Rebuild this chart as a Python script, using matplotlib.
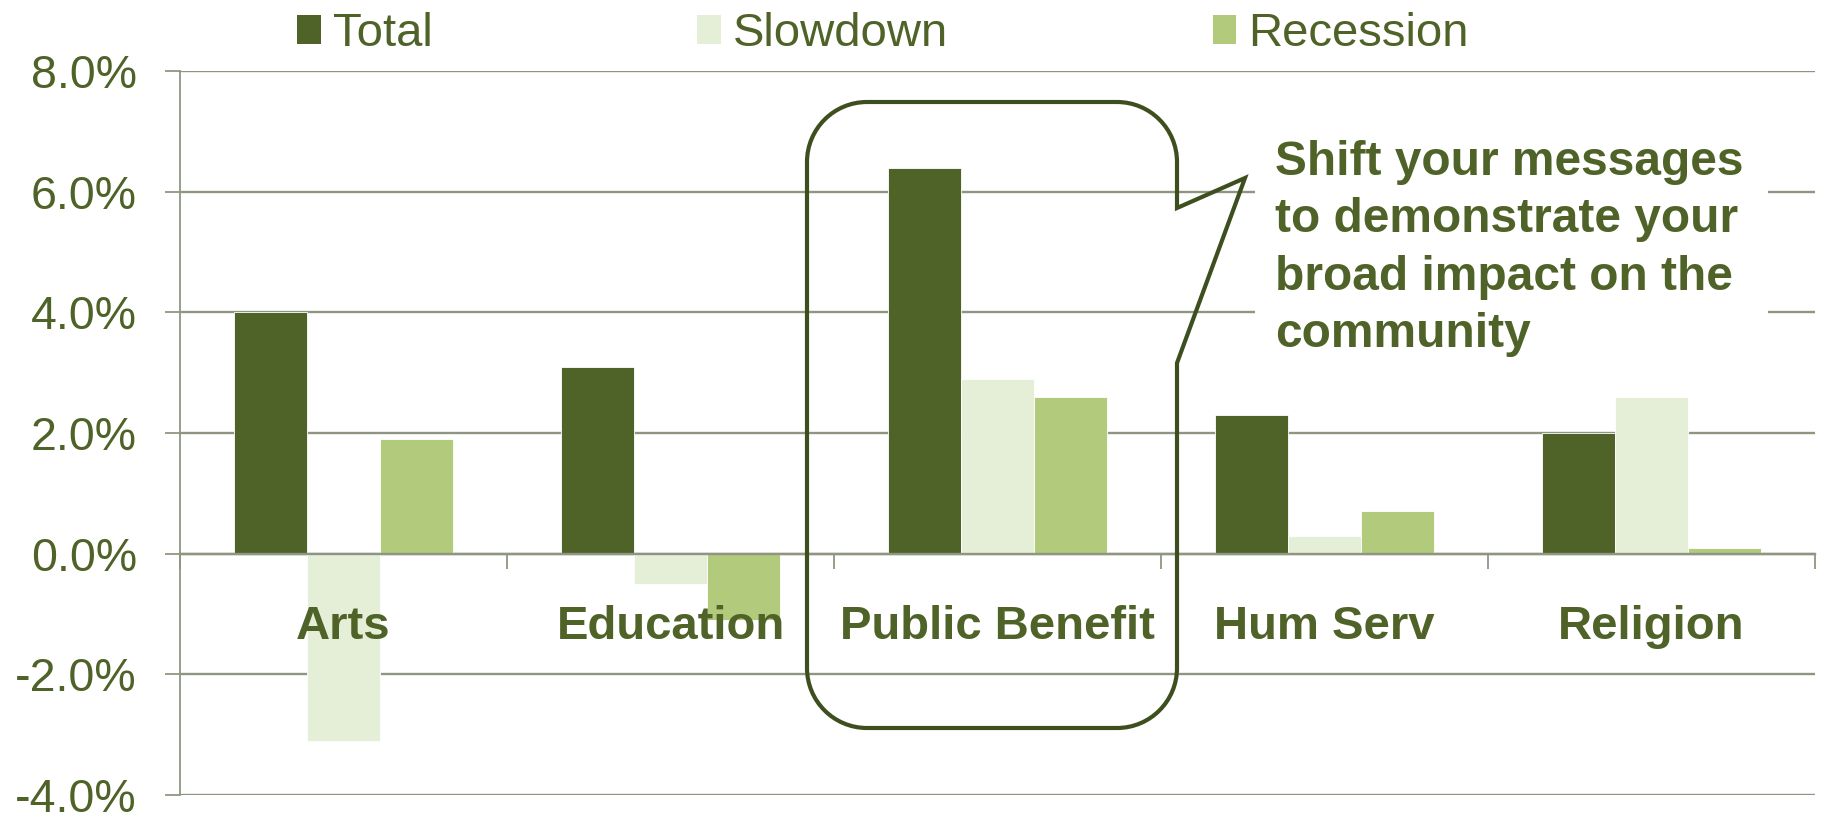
import matplotlib
matplotlib.use("Agg")
import matplotlib.pyplot as plt
from matplotlib.patches import Patch, PathPatch, Rectangle
from matplotlib.path import Path
from matplotlib.transforms import Affine2D
import numpy as np

# ---- data -------------------------------------------------------------
categories = ["Arts", "Education", "Public Benefit", "Hum Serv", "Religion"]
series_names = ["Total", "Slowdown", "Recession"]
total = [4.0, 3.1, 6.4, 2.3, 2.0]
slowdown = [-3.1, -0.5, 2.9, 0.3, 2.6]
recession = [1.9, -1.1, 2.6, 0.7, 0.1]
y_ticks = [-4, -2, 0, 2, 4, 6, 8]
callout_lines = ["Shift your messages", "to demonstrate your",
                 "broad impact on the", "community"]

# ---- style ------------------------------------------------------------
OLIVE = "#4F6228"
COLORS = ["#4F6228", "#E5EED7", "#B2CA7C"]
GRID = "#8E9682"
CALLOUT = "#3E4F1F"
W, H = 1822, 813
DPI = 100

plt.rcParams["font.family"] = ["Liberation Sans", "DejaVu Sans"]

fig = plt.figure(figsize=(W / DPI, H / DPI), dpi=DPI)
ax = fig.add_axes([180 / W, 1 - 795 / H, 1635 / W, 724 / H])

x = np.arange(len(categories))
bw = 0.2232
for i, (vals, col) in enumerate(zip([total, slowdown, recession], COLORS)):
    ax.bar(x + (i - 1) * bw, vals, width=bw, color=col, edgecolor="white",
           linewidth=0.6, zorder=2, label=series_names[i])

ax.set_xlim(-0.5, len(categories) - 0.5)
ax.set_ylim(-4, 8)
ax.set_yticks(y_ticks)
ax.set_yticklabels([f"{v:.1f}%" for v in y_ticks])
ax.set_axisbelow(True)
ax.yaxis.grid(True, color=GRID, linewidth=1.7)
ax.xaxis.grid(False)

for s in ["top", "right"]:
    ax.spines[s].set_visible(False)
ax.spines["left"].set_color(GRID)
ax.spines["left"].set_linewidth(1.3)
ax.spines["bottom"].set_position(("data", 0))
ax.spines["bottom"].set_color(GRID)
ax.spines["bottom"].set_linewidth(1.7)

ax.set_xticks(np.arange(-0.5, len(categories), 1.0))
ax.set_xticklabels([])
ax.tick_params(axis="x", direction="out", length=11, width=1.3, color=GRID)
ax.tick_params(axis="y", direction="out", length=11, width=1.3, color=GRID,
               labelsize=33.5, labelcolor=OLIVE, pad=20)

# category names sit just below the zero line
for xi, name in zip(x, categories):
    ax.text(xi, -1.417, name, ha="center", va="baseline", fontsize=34,
            fontweight="bold", color=OLIVE, zorder=3)

# legend across the top
handles = [Patch(facecolor=c, edgecolor="none") for c in COLORS]
fig.legend(handles, series_names, loc="center left",
           bbox_to_anchor=(297 / W, 1 - 34 / H), ncol=3, frameon=False,
           fontsize=34, labelcolor=OLIVE, handlelength=0.5,
           handleheight=0.55, handletextpad=0.26, columnspacing=5.6,
           borderpad=0, borderaxespad=0)

# pixel coordinates (origin top-left) for the callout shape
px = Affine2D().scale(1 / W, -1 / H).translate(0, 1) + fig.transFigure

L, R, T, B, r = 807, 1177, 102, 728, 60
y1, y2, tip = 208, 363, (1245, 178)
k = 0.5523 * r
verts = [
    (L + r, T), (R - r, T),
    (R - r + k, T), (R, T + r - k), (R, T + r),
    (R, y1), tip, (R, y2),
    (R, B - r),
    (R, B - r + k), (R - r + k, B), (R - r, B),
    (L + r, B),
    (L + r - k, B), (L, B - r + k), (L, B - r),
    (L, T + r),
    (L, T + r - k), (L + r - k, T), (L + r, T),
]
codes = [Path.MOVETO, Path.LINETO,
         Path.CURVE4, Path.CURVE4, Path.CURVE4,
         Path.LINETO, Path.LINETO, Path.LINETO,
         Path.LINETO,
         Path.CURVE4, Path.CURVE4, Path.CURVE4,
         Path.LINETO,
         Path.CURVE4, Path.CURVE4, Path.CURVE4,
         Path.LINETO,
         Path.CURVE4, Path.CURVE4, Path.CURVE4]
fig.add_artist(PathPatch(Path(verts, codes), facecolor="none",
                         edgecolor=CALLOUT, linewidth=3.0, transform=px,
                         zorder=5))

# white panel behind the callout text
fig.add_artist(Rectangle((1255, 362), 513, -240, facecolor="white",
                         edgecolor="none", transform=px, zorder=4))
for i, line in enumerate(callout_lines):
    fig.text(1275, 175 + i * 57.3, line, transform=px, ha="left",
             va="baseline", fontsize=34.5, fontweight="bold", color=OLIVE,
             zorder=6)

fig.savefig("out.png", dpi=DPI, facecolor="white")
